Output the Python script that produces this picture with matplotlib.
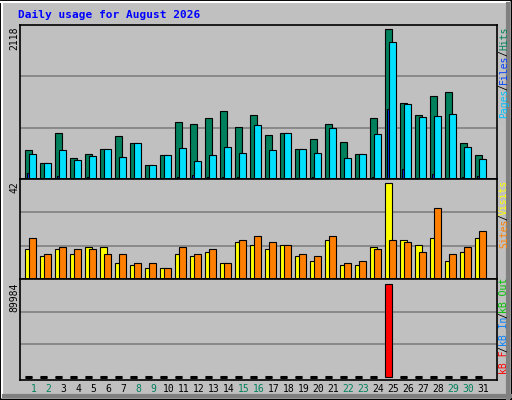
import matplotlib
matplotlib.use("Agg")
import matplotlib.pyplot as plt
from matplotlib.patches import Rectangle

days = list(range(1, 32))
hits = [415,229,644,301,358,429,601,515,200,343,801,773,859,959,730,902,615,644,429,558,773,529,358,859,2118,1073,902,1173,1231,515,343]
files = [358,229,415,272,329,429,315,515,200,343,444,258,343,458,372,758,415,644,429,372,716,301,358,630,1932,1059,873,887,916,458,286]
pages = [86,14,43,14,29,14,14,14,14,14,29,57,29,29,29,14,14,14,14,29,14,14,14,29,987,143,20,72,14,29,43]
visits = [13,10,13,11,14,14,7,6,5,5,11,10,12,7,16,15,13,15,10,8,17,6,6,14,42,17,15,18,8,12,18]
sites = [18,11,14,13,13,11,11,7,7,5,14,11,13,7,17,19,16,15,11,10,19,7,8,13,17,16,12,31,11,14,21]
kbytes = [0]*24 + [89984] + [0]*6
weekend = {1,2,8,9,15,16,22,23,29,30}
title = "Daily usage for August 2026"

W, H = 512, 400
fig = plt.figure(figsize=(W/100, H/100), dpi=100)
fig.patch.set_facecolor("#C0C0C0")
bg = fig.add_axes([0, 0, 1, 1]); bg.set_xlim(0, W); bg.set_ylim(H, 0); bg.axis("off")
bg.add_patch(Rectangle((0, 0), W-1, H-1, fill=False, ec="black", lw=1))
bg.plot([1, W-3], [2, 2], color="white", lw=1.5)
bg.plot([2, 2], [2, H-3], color="white", lw=1.5)
bg.plot([W-4, W-4], [4, H-2], color="#808080", lw=3)
bg.plot([4, W-2], [H-4, H-4], color="#808080", lw=3)
bg.text(18, 15, title, color="#0000FF", fontsize=8, fontweight="bold",
        family="DejaVu Sans Mono", va="center", ha="left")

def pax(x0, y0, x1, y1):
    a = fig.add_axes([x0/W, 1-y1/H, (x1-x0)/W, (y1-y0)/H])
    a.set_facecolor("#C0C0C0")
    for s in a.spines.values():
        s.set_color("black"); s.set_linewidth(1.2)
    a.set_xticks([]); a.set_yticks([])
    a.set_xlim(0.3, 32.1)
    return a

bw = 0.47; off = 0.35; f_off = 4/15
ec = dict(edgecolor="black", linewidth=0.8)

a1 = pax(20, 25, 497, 179)
ymax1 = max(hits) * 152 / 148
a1.set_ylim(0, ymax1)
for g in (ymax1/3, 2*ymax1/3):
    a1.axhline(g, color="#808080", lw=1.2, zorder=0)
x = [d - off for d in days]
a1.bar(x, hits, width=bw, align="edge", color="#00805C", **ec)
a1.bar([v + 2/15 for v in x], pages, width=0.13, align="edge", color="#0040FF", **ec)
a1.bar([v + f_off for v in x], files, width=bw, align="edge", color="#00E0FF", **ec)

a2 = pax(20, 179, 497, 279)
ymax2 = max(visits) * 96 / 92
a2.set_ylim(0, ymax2)
for g in (ymax2/3, 2*ymax2/3):
    a2.axhline(g, color="#808080", lw=1.2, zorder=0)
a2.bar(x, visits, width=bw, align="edge", color="#FFFF00", **ec)
a2.bar([v + f_off for v in x], sites, width=bw, align="edge", color="#FF8000", **ec)

a3 = pax(20, 279, 497, 380)
ymax3 = max(kbytes) * 97 / 92
a3.set_ylim(-ymax3*0.03, ymax3)
for g in (ymax3/3, 2*ymax3/3):
    a3.axhline(g, color="#808080", lw=1.2, zorder=0)
a3.bar(x, kbytes, width=bw, align="edge", color="#FF0000", **ec)
for d, v in zip(days, kbytes):
    if v == 0:
        a3.plot([d - off, d - off + bw], [0, 0], color="black", lw=2.2, solid_capstyle="butt")

# labels
mono = "DejaVu Sans Mono"
for d in days:
    px = 20 + (d - 0.3 + 0.18) * 15 + 0.3
    bg.text(px, 389, str(d), ha="center", va="center", fontsize=7, family=mono,
            color="#00805C" if d in weekend else "black")
bg.text(14, 27, f"{max(hits)}", rotation=90, ha="center", va="top", fontsize=7, family=mono)
bg.text(14, 181, f"{max(visits)}", rotation=90, ha="center", va="top", fontsize=7, family=mono)
bg.text(14, 283, f"{max(kbytes)}", rotation=90, ha="center", va="top", fontsize=7, family=mono)

cw = 5.6
def rlabel(parts, ytop):
    total = sum(len(p) for p, _ in parts)
    y = ytop + total * cw
    for p, c in parts:
        bg.text(504, y, p, rotation=90, ha="center", va="bottom", fontsize=7,
                family=mono, color=c)
        y -= len(p) * cw

rlabel([("Pages", "#00C0FF"), ("/", "black"), ("Files", "#0040FF"), ("/", "black"), ("Hits", "#00805C")], 28)
rlabel([("Sites", "#FF8000"), ("/", "black"), ("Visits", "#FFFF00")], 181)
rlabel([("kB F", "#FF0000"), ("/", "black"), ("kB In", "#0080FF"), ("/", "black"), ("kB Out", "#00C000")], 279)

fig.savefig("out.png", dpi=100, facecolor=fig.get_facecolor())
